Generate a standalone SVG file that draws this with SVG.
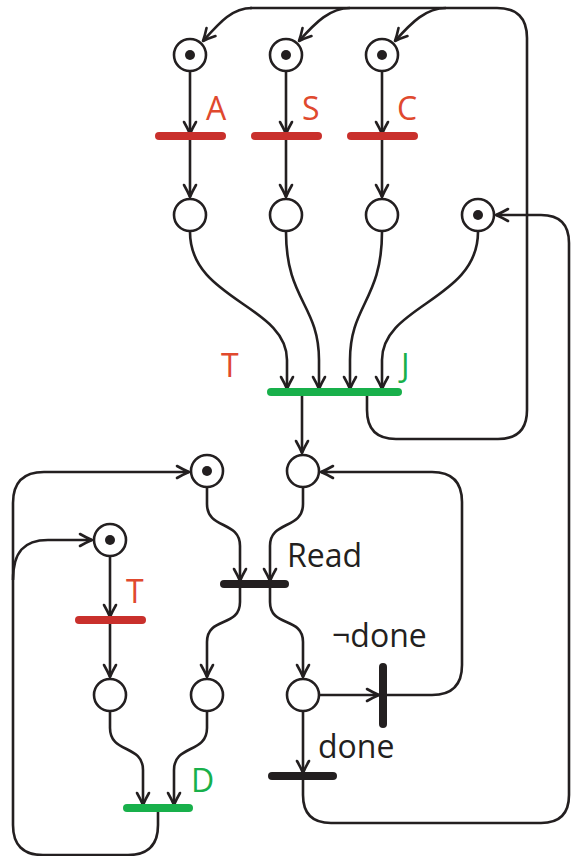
<svg xmlns="http://www.w3.org/2000/svg" width="572" height="856" viewBox="0 0 572 856">
  <style>
    .place { fill: #ffffff; stroke: #231f20; stroke-width: 2.6; }
    .token { fill: #231f20; }
    .bar { stroke-width: 8; stroke-linecap: round; fill: none; }
    .red { stroke: #c9302c; }
    .green { stroke: #18b04b; }
    .black { stroke: #231f20; }
    .arc { fill: none; stroke: #231f20; stroke-width: 2.6; }
    .arr { marker-end: url(#head); }
    .lbl { font-family: "Open Sans", "Liberation Sans", sans-serif; font-size: 32px; }
    .lred { fill: #e0492e; }
    .lgreen { fill: #18b04b; }
    .lblack { fill: #231f20; }
  </style>
  <defs>
    <marker id="head" viewBox="-14 -8 16 16" refX="0" refY="0" markerWidth="16" markerHeight="16" markerUnits="userSpaceOnUse" orient="auto">
      <path d="M-12,-6 Q-5,-2 0,0 Q-5,2 -12,6" fill="none" stroke="#231f20" stroke-width="2.6" stroke-linecap="round" stroke-linejoin="round"/>
    </marker>
  </defs>

  <!-- connectors -->
  <g id="connectors">
    <!-- top places to A/S/C and on to the second row -->
    <path class="arc arr" d="M190,72 V134"/>
    <path class="arc arr" d="M190,136 V197"/>
    <path class="arc arr" d="M286,72 V134"/>
    <path class="arc arr" d="M286,136 V197"/>
    <path class="arc arr" d="M382,72 V134"/>
    <path class="arc arr" d="M382,136 V197"/>

    <!-- second row into J -->
    <path class="arc arr" d="M190,232 C190,300 287,305 287,360 V389"/>
    <path class="arc arr" d="M286,232 C286,300 319,305 319,360 V389"/>
    <path class="arc arr" d="M382,232 C382,300 350,305 350,360 V389"/>
    <path class="arc arr" d="M478,232 C478,300 382,305 382,360 V389"/>

    <!-- J output down to the read buffer place -->
    <path class="arc arr" d="M302,396 V453"/>

    <!-- J back to the three top places -->
    <path class="arc" d="M367,396 V410 Q367,439 396,439 H498 Q527,439 527,410 V38 Q527,8 497,8 H250"/>
    <path class="arc arr" d="M252,8 C232,8 220,22 203,41"/>
    <path class="arc arr" d="M350,8 C330,8 316,22 299,41"/>
    <path class="arc arr" d="M446,8 C426,8 412,22 395,41"/>

    <!-- into Read -->
    <path class="arc arr" d="M207,488 V504 C207,530 240,520 240,546 V581"/>
    <path class="arc arr" d="M303,488 V504 C303,530 270,520 270,546 V581"/>

    <!-- out of Read -->
    <path class="arc arr" d="M240,587 V602 C240,628 207,616 207,642 V677"/>
    <path class="arc arr" d="M270,587 V602 C270,628 303,616 303,642 V677"/>

    <!-- T (lower) -->
    <path class="arc arr" d="M110,557 V617"/>
    <path class="arc arr" d="M110,620 V677"/>

    <!-- into D -->
    <path class="arc arr" d="M110,712 V728 C110,754 143,744 143,770 V805"/>
    <path class="arc arr" d="M207,712 V728 C207,754 174,744 174,770 V805"/>

    <!-- D back to the two left places -->
    <path class="arc" d="M158,812 V825 Q158,855 128,855 H43 Q13,855 13,825 V503 Q13,472 44,472 H185"/>
    <path class="arc arr" d="M183,472 H189"/>
    <path class="arc" d="M13,580 C13,552 24,540 48,540 H88"/>
    <path class="arc arr" d="M86,540 H92"/>

    <!-- not done -->
    <path class="arc arr" d="M320,695 H379"/>
    <path class="arc" d="M383,695 H432 Q462,695 462,665 V502 Q462,472 432,472 H326"/>
    <path class="arc arr" d="M328,472 H321"/>

    <!-- done -->
    <path class="arc arr" d="M303,712 V773"/>
    <path class="arc" d="M303,779 V795 Q303,823 331,823 H541 Q569,823 569,795 V243 Q569,215 541,215 H500"/>
    <path class="arc arr" d="M502,215 H496"/>
  </g>

  <!-- transitions -->
  <g id="t-A"><line class="bar red" x1="159" y1="136" x2="222" y2="136"/><text class="lbl lred" x="206" y="120">A</text></g>
  <g id="t-S"><line class="bar red" x1="255" y1="136" x2="318" y2="136"/><text class="lbl lred" x="302" y="120">S</text></g>
  <g id="t-C"><line class="bar red" x1="351" y1="136" x2="414" y2="136"/><text class="lbl lred" x="397" y="120">C</text></g>
  <g id="t-J"><line class="bar green" x1="271" y1="392" x2="398" y2="392"/><text class="lbl lred" x="221" y="377">T</text><text class="lbl lgreen" x="401" y="377">J</text></g>
  <g id="t-Read"><line class="bar black" x1="224" y1="584" x2="285" y2="584"/><text class="lbl lblack" x="287" y="567">Read</text></g>
  <g id="t-T"><line class="bar red" x1="79" y1="620" x2="142" y2="620"/><text class="lbl lred" x="126" y="603">T</text></g>
  <g id="t-notdone"><line class="bar black" x1="383" y1="667" x2="383" y2="724"/><text class="lbl lblack" x="332" y="647">¬done</text></g>
  <g id="t-done"><line class="bar black" x1="272" y1="776" x2="333" y2="776"/><text class="lbl lblack" x="318" y="758">done</text></g>
  <g id="t-D"><line class="bar green" x1="127" y1="808" x2="189" y2="808"/><text class="lbl lgreen" x="191" y="792">D</text></g>

  <!-- places -->
  <g id="p-a"><circle class="place" cx="190" cy="55" r="16"/><circle class="token" cx="190" cy="55" r="5"/></g>
  <g id="p-s"><circle class="place" cx="286" cy="55" r="16"/><circle class="token" cx="286" cy="55" r="5"/></g>
  <g id="p-c"><circle class="place" cx="382" cy="55" r="16"/><circle class="token" cx="382" cy="55" r="5"/></g>
  <g id="p-a2"><circle class="place" cx="190" cy="215" r="16"/></g>
  <g id="p-s2"><circle class="place" cx="286" cy="215" r="16"/></g>
  <g id="p-c2"><circle class="place" cx="382" cy="215" r="16"/></g>
  <g id="p-j"><circle class="place" cx="478" cy="215" r="16"/><circle class="token" cx="478" cy="215" r="5"/></g>
  <g id="p-r1"><circle class="place" cx="207" cy="471" r="16"/><circle class="token" cx="207" cy="471" r="5"/></g>
  <g id="p-r2"><circle class="place" cx="303" cy="471" r="16"/></g>
  <g id="p-t"><circle class="place" cx="110" cy="540" r="16"/><circle class="token" cx="110" cy="540" r="5"/></g>
  <g id="p-l1"><circle class="place" cx="110" cy="695" r="16"/></g>
  <g id="p-l2"><circle class="place" cx="207" cy="695" r="16"/></g>
  <g id="p-l3"><circle class="place" cx="303" cy="695" r="16"/></g>
</svg>
